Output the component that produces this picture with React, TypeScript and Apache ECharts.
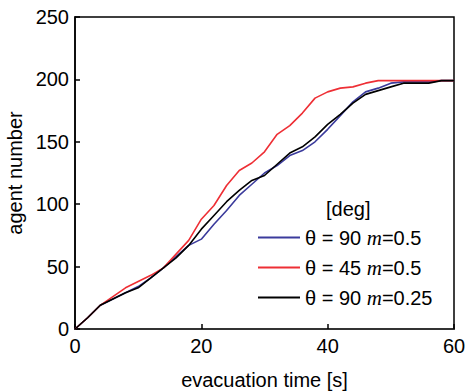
import React, { useEffect, useRef } from "react";
import * as echarts from "echarts";

const times = [0, 2, 4, 6, 8, 10, 12, 14, 16, 18, 20, 22, 24, 26, 28, 30, 32, 34, 36, 38, 40, 42, 44, 46, 48, 50, 52, 54, 56, 58, 60];
const blue90m05 = [0, 9, 19, 24, 29, 34, 41, 49, 58, 67, 72, 84, 95, 107, 116, 125, 131, 139, 143, 150, 160, 171, 182, 190, 193, 197, 198, 198, 198, 199, 199];
const red45m05 = [0, 9, 19, 26, 33, 38, 43, 49, 60, 71, 88, 99, 115, 127, 133, 142, 156, 163, 173, 185, 190, 193, 194, 197, 199, 199, 199, 199, 199, 199, 199];
const black90m025 = [0, 9, 19, 24, 29, 33, 41, 49, 57, 67, 80, 91, 102, 111, 119, 123, 132, 141, 146, 154, 164, 172, 181, 188, 191, 194, 197, 197, 197, 199, 199];
const seriesNames = ["θ = 90 m=0.5", "θ = 45 m=0.5", "θ = 90 m=0.25"];
const seriesColors = ["#3b3b9c", "#ee2f35", "#000000"];
const xTicks = [0, 20, 40, 60];
const yTicks = [0, 50, 100, 150, 200, 250];

const legendRich: Record<string, string> = {
  "θ = 90 m=0.5": "{a|θ = 90 }{m|m}{a|=0.5}",
  "θ = 45 m=0.5": "{a|θ = 45 }{m|m}{a|=0.5}",
  "θ = 90 m=0.25": "{a|θ = 90 }{m|m}{a|=0.25}",
};

export default function App() {
  const ref = useRef<HTMLDivElement>(null);
  useEffect(() => {
    if (!ref.current) return;
    const chart = echarts.init(ref.current, null, { renderer: "svg" });
    const font = "'Liberation Sans', Arial, sans-serif";
    const data = [blue90m05, red45m05, black90m025];
    chart.setOption({
      animation: false,
      textStyle: { fontFamily: font },
      grid: {
        left: 75,
        right: 11,
        top: 17,
        bottom: 63,
        outerBoundsMode: "none",
        containLabel: false,
        show: true,
        borderColor: "#000",
        borderWidth: 1.5,
        backgroundColor: "transparent",
      },
      xAxis: {
        type: "value",
        min: xTicks[0],
        max: xTicks[xTicks.length - 1],
        interval: 20,
        name: "evacuation time [s]",
        nameLocation: "middle",
        nameGap: 41,
        nameTextStyle: { fontSize: 20, color: "#000", fontFamily: font },
        axisLine: { show: true, lineStyle: { color: "#333", width: 2 } },
        axisTick: { show: true, inside: true, length: 5, lineStyle: { color: "#000", width: 1.5 } },
        axisLabel: { fontSize: 20, color: "#000", margin: 7, fontFamily: font },
        splitLine: { show: false },
      },
      yAxis: {
        type: "value",
        min: yTicks[0],
        max: yTicks[yTicks.length - 1],
        interval: 50,
        name: "agent number",
        nameLocation: "middle",
        nameGap: 46,
        nameRotate: 90,
        nameTextStyle: { fontSize: 20, color: "#000", fontFamily: font },
        axisLine: { show: true, lineStyle: { color: "#000", width: 1.5 } },
        axisTick: { show: true, inside: true, length: 5, lineStyle: { color: "#000", width: 1.5 } },
        axisLabel: { fontSize: 20, color: "#000", margin: 6, fontFamily: font },
        splitLine: { show: false },
      },
      legend: {
        orient: "vertical",
        left: 253,
        top: 222,
        itemWidth: 42,
        itemHeight: 2,
        itemGap: 9,
        icon: "rect",
        data: seriesNames,
        formatter: (name: string) => legendRich[name] || name,
        textStyle: {
          fontSize: 20,
          color: "#000",
          rich: {
            a: { fontSize: 20, color: "#000", fontFamily: font, lineHeight: 22 },
            m: { fontSize: 21, color: "#000", fontFamily: "'Liberation Serif', 'DejaVu Serif', serif", fontStyle: "italic", lineHeight: 22 },
          },
        },
      },
      graphic: [
        {
          type: "text",
          left: 326,
          top: 199,
          style: { text: "[deg]", fontSize: 20, fill: "#000", fontFamily: font },
        },
      ],
      series: seriesNames.map((name, i) => ({
        name,
        type: "line",
        data: times.map((t, j) => [t, data[i][j]]),
        symbol: "none",
        lineStyle: { color: seriesColors[i], width: 1.6 },
        itemStyle: { color: seriesColors[i] },
        z: i === 2 ? 5 : 3,
      })),
    });
    return () => chart.dispose();
  }, []);
  return (
    <div
      ref={ref}
      style={{ position: "absolute", left: 0, top: 0, width: 465, height: 392 }}
    />
  );
}
